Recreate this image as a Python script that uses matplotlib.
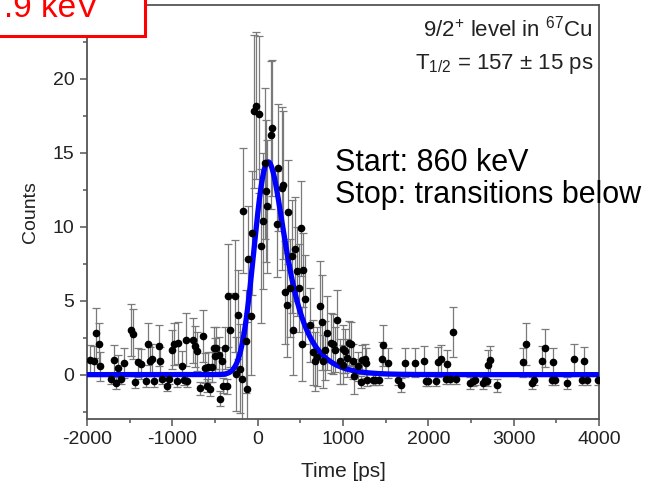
import math
import numpy as np
import matplotlib
matplotlib.use("Agg")
import matplotlib.pyplot as plt
from matplotlib.patches import Rectangle
from matplotlib.ticker import MultipleLocator, FixedLocator

plt.rcParams['font.family'] = ['Liberation Sans', 'DejaVu Sans']
plt.rcParams['mathtext.fontset'] = 'custom'
plt.rcParams['mathtext.rm'] = 'Liberation Sans'
plt.rcParams['mathtext.it'] = 'Liberation Sans:italic'
plt.rcParams['mathtext.bf'] = 'Liberation Sans:bold'

# ---- data ----
time_ps = [-1969, -1922, -1895, -1864, -1845, -1719, -1680, -1657, -1641, -1598,
           -1563, -1481, -1461, -1442, -1407, -1364, -1306, -1286, -1259, -1239,
           -1219, -1160, -1142, -1122, -1063, -1036, -1004, -977, -946, -938,
           -887, -867, -844, -829, -758, -738, -711, -680, -645, -614,
           -594, -586, -563, -536, -516, -497, -485, -450, -438, -422,
           -407, -387, -360, -344, -325, -266, -254, -227, -207, -180,
           -169, -137, -122, -110, -82, -70, -40, -23, 15, 35,
           59, 86, 97, 113, 156, 171, 230, 241, 281, 300,
           320, 340, 359, 379, 398, 418, 437, 457, 488, 504,
           516, 535, 554, 613, 652, 672, 691, 730, 750, 769,
           789, 816, 859, 879, 906, 926, 965, 996, 1004, 1023,
           1043, 1070, 1090, 1113, 1129, 1179, 1207, 1219, 1258, 1269,
           1285, 1348, 1375, 1425, 1453, 1472, 1531, 1648, 1680, 1726,
           1844, 1949, 1976, 2000, 2088, 2108, 2143, 2207, 2224, 2254,
           2285, 2324, 2488, 2520, 2547, 2637, 2664, 2684, 2703, 2723,
           2801, 3106, 3145, 3212, 3239, 3329, 3367, 3446, 3465, 3484,
           3629, 3707, 3805, 3828, 3863, 3985]
counts = [1.0, 0.95, 2.84, 2.1, 0.56, -0.27, 1.0, -0.55, 0.43, -0.27,
          0.79, 3.04, 2.77, -0.52, 0.83, 0.72, -0.45, 2.07, 0.9, 1.08,
          -0.41, 1.96, 0.9, -0.27, -0.74, -0.29, 1.69, 2.07, -0.45, 2.14,
          0.61, -0.34, 2.36, -0.45, 2.32, 1.91, 1.58, -0.92, 2.59, 0.45,
          -0.74, 0.52, -0.97, 0.52, 1.8, 1.28, 1.8, 1.35, -1.64, 0.9,
          -0.74, 1.8, -0.8, 5.34, 3.04, 5.34, 0.07, 4.05, 0.4, -0.29,
          11.1, 2.25, -0.95, 7.8, 4.0, 9.6, 17.8, 18.2, 17.6, 8.7,
          10.4, 14.3, 12.4, 11.4, 16.2, 16.7, 10.2, 14.0, 12.6, 12.8,
          5.56, 4.7, 11.0, 5.86, 8.0, 3.0, 8.5, 7.0, 5.86, 9.9,
          2.09, 7.1, 5.1, 3.38, 1.5, 0.9, 1.2, 4.66, 3.53, 0.9,
          1.64, 2.82, 2.14, 2.07, 1.69, 3.72, 0.9, 1.74, 0.68, 1.58,
          1.13, 2.14, 2.07, 0.9, -0.11, 0.56, -0.5, 1.01, 1.06, 0.79,
          -0.34, -0.34, -0.34, -0.34, 1.08, 1.98, 0.79, -0.34, -0.7, 0.81,
          0.81, 0.95, -0.41, -0.41, -0.41, 0.87, 1.03, -0.29, 0.7, -0.29,
          2.86, -0.29, -0.56, -0.45, -0.34, -0.56, -0.34, -0.45, 0.68, 0.97,
          -0.72, 0.83, 2.07, -0.56, -0.38, 0.95, 1.8, -0.34, 0.83, -0.38,
          -0.56, 1.08, -0.34, 0.9, -0.34, -0.38]
errors = [1.0, 1.0, 1.7, 1.4, 1.0, 0.35, 1.0, 0.4, 0.9, 0.35,
          1.0, 1.75, 1.7, 0.4, 1.0, 1.0, 0.4, 1.4, 1.0, 1.0,
          0.4, 1.4, 1.0, 0.35, 0.4, 0.35, 1.3, 1.4, 0.4, 1.4,
          1.0, 0.35, 1.8, 0.4, 1.5, 1.4, 1.3, 0.45, 1.75, 1.0,
          0.45, 1.0, 0.45, 1.0, 1.4, 1.2, 1.4, 1.2, 0.5, 1.0,
          0.5, 1.4, 0.5, 3.5, 2.5, 3.8, 2.5, 3.0, 3.0, 3.2,
          4.2, 3.5, 4.5, 3.6, 4.0, 4.2, 5.2, 5.0, 5.3, 5.2,
          4.6, 5.1, 4.8, 4.5, 5.0, 4.6, 3.6, 4.3, 5.5, 5.0,
          3.5, 3.5, 3.5, 3.3, 3.8, 3.0, 3.5, 3.0, 3.0, 3.2,
          2.5, 2.5, 3.0, 2.5, 2.2, 2.0, 2.0, 3.0, 3.2, 1.8,
          2.0, 2.5, 2.0, 2.0, 1.5, 2.0, 1.5, 1.6, 1.3, 1.5,
          1.3, 1.5, 1.5, 1.2, 1.2, 1.0, 0.4, 1.0, 1.0, 1.0,
          0.4, 0.35, 0.35, 0.35, 1.1, 1.4, 1.0, 0.35, 0.45, 1.0,
          1.0, 1.0, 0.35, 0.35, 0.35, 1.0, 1.0, 0.35, 1.0, 0.35,
          1.7, 0.35, 0.4, 0.35, 0.35, 0.4, 0.35, 0.35, 1.0, 1.0,
          0.45, 1.0, 1.4, 0.4, 0.35, 1.0, 1.3, 0.35, 1.0, 0.35,
          0.4, 1.0, 0.35, 1.0, 0.35, 0.35]

# fit parameters (exponentially modified Gaussian)
fit_amplitude = 32.6
fit_mu = 0.0
fit_sigma = 130.0
fit_tau = 226.0

x_ticks = [-2000, -1000, 0, 1000, 2000, 3000, 4000]
y_ticks = [0, 5, 10, 15, 20]

# ---- figure ----
fig = plt.figure(figsize=(6.59, 4.92), dpi=100)
ax = fig.add_axes([87/659, 1-419/492, 512/659, 414/492])

ax.errorbar(time_ps, counts, yerr=errors, fmt='none', ecolor='#7a7a7a',
            elinewidth=0.9, capsize=3, capthick=0.9, zorder=2)

tt = np.linspace(-2000, 4000, 1200)
r = fit_sigma / fit_tau
u = (tt - fit_mu) / fit_sigma
erfc_v = np.array([math.erfc(v) for v in (r - u) / math.sqrt(2)])
curve = fit_amplitude * 0.5 * np.exp(r**2 / 2 - r * u) * erfc_v
ax.plot(tt, curve, color='#0000ff', lw=3.8, zorder=3, solid_capstyle='butt')

ax.plot(time_ps, counts, 'o', color='black', ms=4.5, zorder=4)

ax.set_xlim(-2000, 4000)
ax.set_ylim(-3, 25)
ax.xaxis.set_major_locator(FixedLocator(x_ticks))
ax.xaxis.set_minor_locator(MultipleLocator(500))
ax.yaxis.set_major_locator(FixedLocator(y_ticks))
ax.yaxis.set_minor_locator(FixedLocator([-2.5, 2.5, 7.5, 12.5, 17.5, 22.5]))
ax.set_xticklabels([str(v) for v in x_ticks])
ax.tick_params(which='major', direction='out', length=5, width=1.1,
               color='#555555', labelsize=14, labelcolor='#222222', pad=4)
ax.tick_params(which='minor', direction='out', length=3, width=1.1, color='#555555')
for s in ax.spines.values():
    s.set_color('#555555')
    s.set_linewidth(1.3)

ax.set_xlabel('Time [ps]', fontsize=15, color='#222222', labelpad=10)
ax.set_ylabel('Counts', fontsize=14, color='#222222', labelpad=10)

ax.text(3930, 22.86, r'9/2$^{+}$ level in $^{67}$Cu', ha='right', va='baseline',
        fontsize=16, color='#222222')
ax.text(3930, 20.7, r'T$_{1/2}$ = 157 ± 15 ps', ha='right', va='baseline',
        fontsize=16, color='#222222')

ax.text(906, 13.74, 'Start: 860 keV', ha='left', va='baseline', fontsize=22,
        color='black', clip_on=False, zorder=6)
ax.text(906, 11.6, 'Stop: transitions below', ha='left', va='baseline', fontsize=22,
        color='black', clip_on=False, zorder=6)

box = Rectangle((-0.05, 1-35.7/492), 0.05 + 145/659, 0.2, transform=fig.transFigure,
                facecolor='white', edgecolor='#ff0000', lw=2.2, zorder=10)
fig.patches.append(box)
fig.text(98/659, 1-17/492, '.9 keV', ha='right', va='baseline', fontsize=24,
         color='#ff0000', zorder=11)

fig.savefig('out.png', dpi=100)
